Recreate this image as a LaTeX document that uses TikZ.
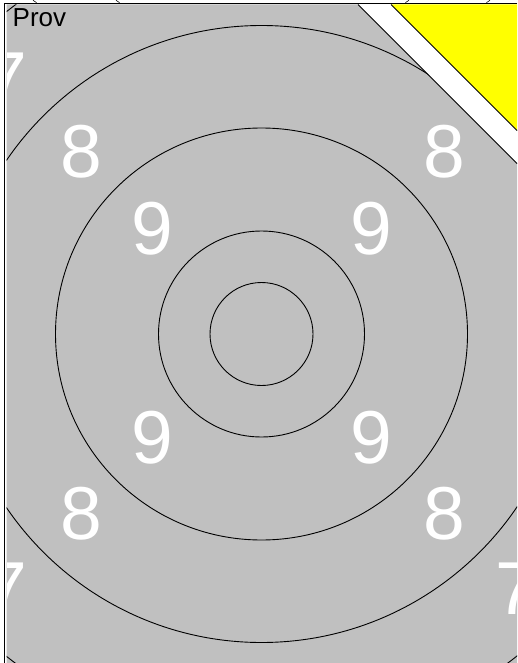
\documentclass[tikz,border=0pt]{standalone}
\usepackage{fontspec}
\newfontfamily\arialfont{Liberation Sans}
\definecolor{targetgray}{HTML}{C0C0C0}
\definecolor{corneryellow}{HTML}{FFFF00}

\begin{document}
\begin{tikzpicture}[x=1pt, y=-1pt,
		ring/.style={draw=black, line width=0.9pt},
		ringnum/.style={text=white, font=\arialfont\fontsize{75}{75}\selectfont, inner sep=0pt, anchor=center},
		label/.style={text=black, font=\arialfont\fontsize{26}{26}\selectfont, inner sep=0pt, anchor=base west},
		edge/.style={draw=black, line width=0.8pt}]
		
		\useasboundingbox (0,0) rectangle (517,663);
		
		% frame and target area
		\fill[white] (4,3) rectangle (517,663);
		\fill[targetgray] (6.5,4.5) -- (358,4.5) -- (517,163.5) -- (517,663) -- (6.5,663) -- cycle;
		\fill[corneryellow] (391,4.5) -- (517,4.5) -- (517,130.5) -- cycle;
		\draw[edge] (358,4.5) -- (517,163.5);
		\draw[edge] (391,4.5) -- (517,130.5);
		\draw[black, line width=1.2pt] (517,3.6) -- (4.6,3.6) -- (4.6,663);
		
		% bits showing above the frame
		\draw[black, line width=0.6pt] (33,0.3) -- (36.5,2.6);
		\draw[black, line width=0.6pt] (116,0.3) -- (119.5,2.6);
		\draw[black, line width=0.6pt] (409,0.3) -- (405.5,2.6);
		\draw[black, line width=0.6pt] (490,0.3) -- (486.5,2.6);
		
		\coordinate (c) at (261.5,334);
		
		\begin{scope}
			\clip (6.5,4.5) -- (358,4.5) -- (517,163.5) -- (517,663) -- (6.5,663) -- cycle;
			\draw[ring] (c) circle (51.5);
			\draw[ring] (c) circle (103);
			\draw[ring] (c) circle (206);
			\draw[ring] (c) circle (308.5);
			\draw[ring] (c) circle (411);
			
			\node[ringnum] (seven-tl) at (6.5,79) {7};
			\node[ringnum] (seven-bl) at (6.5,589) {7};
			\node[ringnum] (seven-br) at (516.5,589) {7};
			
			\node[ringnum] (eight-tl) at (81,152) {8};
			\node[ringnum] (eight-tr) at (444,152) {8};
			\node[ringnum] (eight-bl) at (81,514) {8};
			\node[ringnum] (eight-br) at (444,514) {8};
			
			\node[ringnum] (nine-tl) at (152,229) {9};
			\node[ringnum] (nine-tr) at (371,229) {9};
			\node[ringnum] (nine-bl) at (152,438) {9};
			\node[ringnum] (nine-br) at (371,438) {9};
		\end{scope}
		
		\node[label] (prov) at (12.5,27) {Prov};
	\end{tikzpicture}
\end{document}
